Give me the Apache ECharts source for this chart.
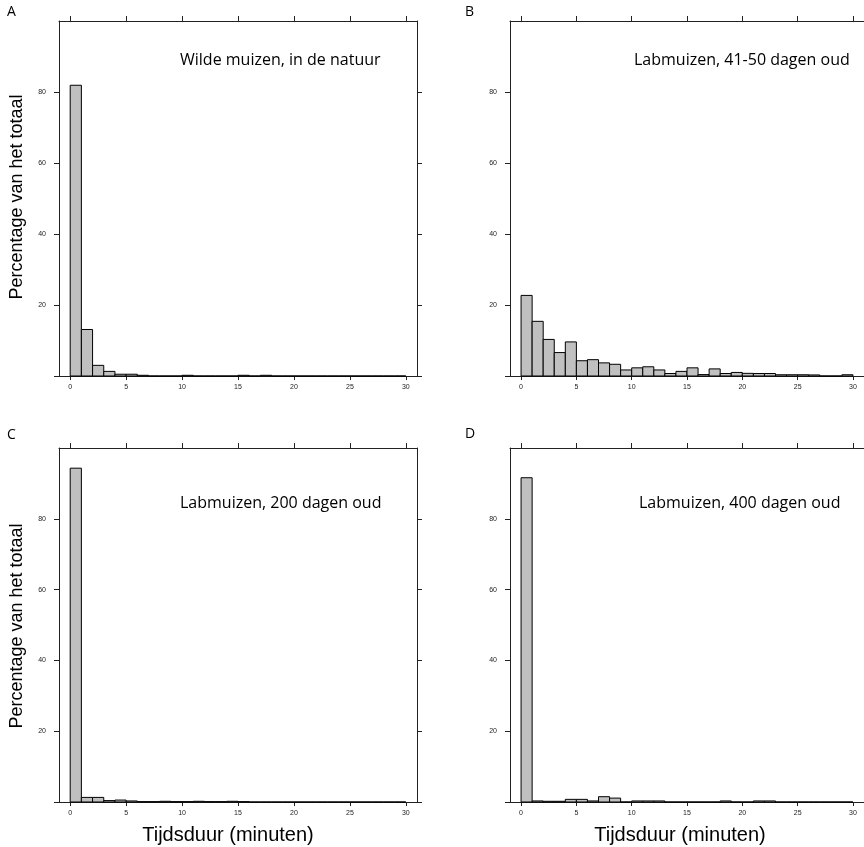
<!DOCTYPE html>
<html>
<head>
<meta charset="utf-8">
<script src="https://cdn.jsdelivr.net/npm/echarts@6/dist/echarts.min.js"></script>
<style>
html,body{margin:0;padding:0;background:#fff;}
#chart{width:864px;height:847px;}
</style>
</head>
<body>
<div id="chart"></div>
<script>
// Histogram bins: 1-minute bins from 0 to 30 minutes (percentage of total)
const binEdges = [0,1,2,3,4,5,6,7,8,9,10,11,12,13,14,15,16,17,18,19,20,21,22,23,24,25,26,27,28,29,30];
const xTickValues = [0,5,10,15,20,25,30];
const yTickValues = [0,20,40,60,80];
const yLabelValues = [20,40,60,80];

const panelLetters = ['A','B','C','D'];
const panelTitles = ['Wilde muizen, in de natuur','Labmuizen, 41-50 dagen oud','Labmuizen, 200 dagen oud','Labmuizen, 400 dagen oud'];
const yAxisTitle = 'Percentage van het totaal';
const xAxisTitle = 'Tijdsduur (minuten)';

const wildMice = [81.9,13.1,3.0,1.3,0.5,0.5,0.2,0,0,0,0.2,0,0,0,0,0.2,0,0.2,0,0,0,0,0,0,0,0,0,0,0,0];
const lab41to50 = [22.7,15.4,10.3,6.6,9.6,4.3,4.6,3.7,3.3,1.7,2.3,2.6,1.7,0.7,1.3,2.3,0.4,2.0,0.7,1.0,0.75,0.7,0.7,0.35,0.35,0.35,0.3,0,0,0.35];
const lab200 = [94.3,1.3,1.3,0.4,0.55,0.3,0.1,0.1,0.2,0.1,0.1,0.2,0.1,0.1,0.2,0.1,0,0,0,0,0,0,0,0,0,0,0,0,0,0];
const lab400 = [91.6,0.3,0.2,0.2,0.75,0.75,0.3,1.5,1.1,0,0.3,0.3,0.3,0,0,0,0,0,0.3,0,0,0.3,0.3,0,0,0,0,0,0,0];

const panelData = [wildMice, lab41to50, lab200, lab400];

const grids = [
  {left:59, top:21, width:358, height:355},
  {left:510, top:21, width:358, height:355},
  {left:59, top:448, width:358, height:354},
  {left:510, top:448, width:358, height:354}
];

const lineCol = '#222';
const tickLabelStyle = {fontFamily:'Liberation Sans, Arial, sans-serif', fontSize:7, color:'#222'};

const xAxes = [], yAxes = [], series = [];
grids.forEach((g, i) => {
  xAxes.push({
    gridIndex:i, type:'value', position:'bottom', min:-1, max:31,
    splitLine:{show:false},
    axisLine:{show:true, onZero:false, lineStyle:{color:lineCol, width:1}},
    axisTick:{show:true, inside:false, length:4, customValues:xTickValues, lineStyle:{color:lineCol}},
    axisLabel:Object.assign({show:true, margin:8, customValues:xTickValues}, tickLabelStyle)
  });
  xAxes.push({
    gridIndex:i, type:'value', position:'top', min:-1, max:31,
    splitLine:{show:false},
    axisLine:{show:true, onZero:false, lineStyle:{color:lineCol, width:1}},
    axisTick:{show:true, inside:false, length:5, customValues:xTickValues, lineStyle:{color:lineCol}},
    axisLabel:{show:false}
  });
  yAxes.push({
    gridIndex:i, type:'value', position:'left', min:0, max:100,
    splitLine:{show:false},
    axisLine:{show:true, onZero:false, lineStyle:{color:lineCol, width:1}},
    axisTick:{show:true, inside:false, length:5, customValues:yTickValues, lineStyle:{color:lineCol}},
    axisLabel:Object.assign({show:true, margin:13, customValues:yLabelValues}, tickLabelStyle)
  });
  yAxes.push({
    gridIndex:i, type:'value', position:'right', min:0, max:100,
    splitLine:{show:false},
    axisLine:{show:true, onZero:false, lineStyle:{color:lineCol, width:1}},
    axisTick:{show:true, inside:false, length:5, customValues:yTickValues, lineStyle:{color:lineCol}},
    axisLabel:{show:false}
  });
  const values = panelData[i];
  series.push({
    type:'custom',
    xAxisIndex:i*2, yAxisIndex:i*2,
    data: values.map((v, k) => [binEdges[k], binEdges[k+1], v]),
    encode:{x:[0,1], y:2},
    renderItem:function(params, api){
      const p0 = api.coord([api.value(0), 0]);
      const p1 = api.coord([api.value(1), api.value(2)]);
      return {
        type:'rect',
        shape:{x:p0[0], y:p1[1], width:p1[0]-p0[0], height:p0[1]-p1[1]},
        style:{fill:'#c0c0c0', stroke:'#000', lineWidth:1}
      };
    },
    silent:true,
    animation:false
  });
});

const titleFont = '"Open Sans", sans-serif';
const graphic = [];
const letterPos = [[7,15],[465,15],[7,438],[465,437]];
const titlePos = [[180,60],[634,60],[180,503],[639,503]];
panelLetters.forEach((t, i) => {
  graphic.push({type:'text', left:letterPos[i][0], top:letterPos[i][1]-10, style:{text:t, font:'14px ' + titleFont, fill:'#000'}});
  graphic.push({type:'text', x:titlePos[i][0], y:titlePos[i][1], style:{text:panelTitles[i], font:'16px ' + titleFont, fill:'#000', textAlign:'left', textVerticalAlign:'middle'}});
});
[[17,197],[17,626]].forEach(p => {
  graphic.push({type:'text', x:p[0], y:p[1], rotation:Math.PI/2, style:{text:yAxisTitle, font:'18px "Liberation Sans", Arial, sans-serif', fill:'#000', textAlign:'center', textVerticalAlign:'middle'}});
});
[[228,835],[680,835]].forEach(p => {
  graphic.push({type:'text', x:p[0], y:p[1], style:{text:xAxisTitle, font:'20px "Liberation Sans", Arial, sans-serif', fill:'#000', textAlign:'center', textVerticalAlign:'middle'}});
});

const chart = echarts.init(document.getElementById('chart'), null, {renderer:'canvas'});
chart.setOption({
  backgroundColor:'#fff',
  animation:false,
  grid:grids,
  xAxis:xAxes,
  yAxis:yAxes,
  series:series,
  graphic:graphic
});
</script>
</body>
</html>
